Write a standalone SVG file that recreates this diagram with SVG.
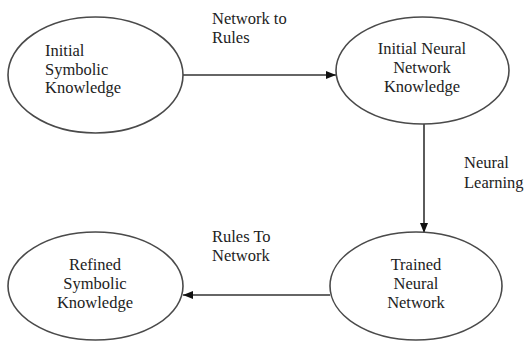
<svg xmlns="http://www.w3.org/2000/svg" width="528" height="341" viewBox="0 0 528 341">
<defs>
<marker id="ah" markerWidth="10" markerHeight="8" refX="10" refY="4" orient="auto" markerUnits="userSpaceOnUse">
<path d="M0,0 L10,4 L0,8 Z" fill="#111"/>
</marker>
</defs>
<rect width="528" height="341" fill="#fff"/>
<g id="connectors" stroke="#333" stroke-width="1.6" fill="none">
<line x1="183" y1="75" x2="336" y2="75" marker-end="url(#ah)"/>
<line x1="424" y1="124" x2="424" y2="233" marker-end="url(#ah)"/>
<line x1="330" y1="295" x2="183" y2="295" marker-end="url(#ah)"/>
</g>
<g id="labels" fill="#222">
<text style="font-family:'Liberation Serif'" font-size="16.5" x="212" y="24">Network to</text>
<text style="font-family:'Liberation Serif'" font-size="16.5" x="212" y="43">Rules</text>
<text style="font-family:'Liberation Serif'" font-size="16.5" x="464" y="168">Neural</text>
<text style="font-family:'Liberation Serif'" font-size="16.5" x="464" y="188">Learning</text>
<text style="font-family:'Liberation Serif'" font-size="16.5" x="212" y="242">Rules To</text>
<text style="font-family:'Liberation Serif'" font-size="16.5" x="212" y="261">Network</text>
</g>
<g id="n1">
<ellipse cx="95.5" cy="75" rx="87.5" ry="58" fill="#fff" stroke="#4a4a4a" stroke-width="1.6"/>
<text style="font-family:'Liberation Serif'" font-size="16.5" fill="#222" x="45" y="56">Initial</text>
<text style="font-family:'Liberation Serif'" font-size="16.5" fill="#222" x="45" y="75">Symbolic</text>
<text style="font-family:'Liberation Serif'" font-size="16.5" fill="#222" x="45" y="93">Knowledge</text>
</g>
<g id="n2">
<ellipse cx="422.5" cy="70.5" rx="86.5" ry="53.5" fill="#fff" stroke="#4a4a4a" stroke-width="1.6"/>
<text style="font-family:'Liberation Serif'" font-size="16.5" fill="#222" text-anchor="middle" x="422" y="54">Initial Neural</text>
<text style="font-family:'Liberation Serif'" font-size="16.5" fill="#222" text-anchor="middle" x="422" y="73">Network</text>
<text style="font-family:'Liberation Serif'" font-size="16.5" fill="#222" text-anchor="middle" x="422" y="92">Knowledge</text>
</g>
<g id="n3">
<ellipse cx="416" cy="286" rx="86" ry="54" fill="#fff" stroke="#4a4a4a" stroke-width="1.6"/>
<text style="font-family:'Liberation Serif'" font-size="16.5" fill="#222" text-anchor="middle" x="416" y="270">Trained</text>
<text style="font-family:'Liberation Serif'" font-size="16.5" fill="#222" text-anchor="middle" x="416" y="289">Neural</text>
<text style="font-family:'Liberation Serif'" font-size="16.5" fill="#222" text-anchor="middle" x="416" y="308">Network</text>
</g>
<g id="n4">
<ellipse cx="95.5" cy="286" rx="87.5" ry="54" fill="#fff" stroke="#4a4a4a" stroke-width="1.6"/>
<text style="font-family:'Liberation Serif'" font-size="16.5" fill="#222" text-anchor="middle" x="95" y="270">Refined</text>
<text style="font-family:'Liberation Serif'" font-size="16.5" fill="#222" text-anchor="middle" x="95" y="289">Symbolic</text>
<text style="font-family:'Liberation Serif'" font-size="16.5" fill="#222" text-anchor="middle" x="95" y="308">Knowledge</text>
</g>
</svg>
